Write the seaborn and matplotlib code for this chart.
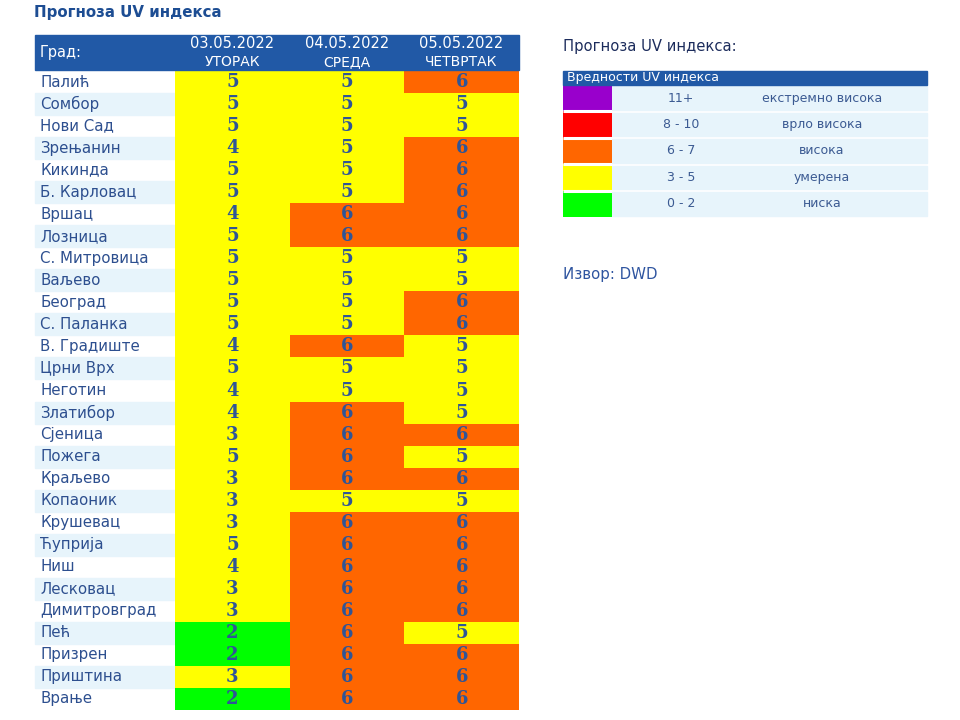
import numpy as np
import matplotlib
matplotlib.use("Agg")
import matplotlib.pyplot as plt
import matplotlib.transforms as mtransforms
from matplotlib.colors import ListedColormap
from matplotlib.patches import Rectangle
import seaborn as sns

cities = ["Палић", "Сомбор", "Нови Сад", "Зрењанин", "Кикинда", "Б. Карловац",
          "Вршац", "Лозница", "С. Митровица", "Ваљево", "Београд", "С. Паланка",
          "В. Градиште", "Црни Врх", "Неготин", "Златибор", "Сјеница", "Пожега",
          "Краљево", "Копаоник", "Крушевац", "Ћуприја", "Ниш", "Лесковац",
          "Димитровград", "Пећ", "Призрен", "Приштина", "Врање"]
dates = ["03.05.2022", "04.05.2022", "05.05.2022"]
days = ["УТОРАК", "СРЕДА", "ЧЕТВРТАК"]
uv_day1 = [5, 5, 5, 4, 5, 5, 4, 5, 5, 5, 5, 5, 4, 5, 4, 4, 3, 5, 3, 3, 3, 5, 4, 3, 3, 2, 2, 3, 2]
uv_day2 = [5, 5, 5, 5, 5, 5, 6, 6, 5, 5, 5, 5, 6, 5, 5, 6, 6, 6, 6, 5, 6, 6, 6, 6, 6, 6, 6, 6, 6]
uv_day3 = [6, 5, 5, 6, 6, 6, 6, 6, 5, 5, 6, 6, 5, 5, 5, 5, 6, 5, 6, 5, 6, 6, 6, 6, 6, 5, 6, 6, 6]

# legend: levels from low to high
level_colors = ["#00ff00", "#ffff00", "#ff6600", "#ff0000", "#9900cc"]
level_ranges = ["0 - 2", "3 - 5", "6 - 7", "8 - 10", "11+"]
level_names = ["ниска", "умерена", "висока", "врло висока", "екстремно висока"]
level_upper = [2, 5, 7, 10, 99]

header_blue = "#2159a6"
stripe = "#e7f4fb"
text_blue = "#2d4f8f"

W, H = 960, 720


def fx(x):
    return x / W


def fy(y):
    return 1 - y / H


def level_of(v):
    for i, up in enumerate(level_upper):
        if v <= up:
            return i
    return len(level_upper) - 1


values = np.array([uv_day1, uv_day2, uv_day3]).T
levels = np.vectorize(level_of)(values)
cmap = ListedColormap(level_colors)

fig = plt.figure(figsize=(9.6, 7.2), dpi=100)

fig.text(fx(34), fy(12), "Прогноза UV индекса", fontsize=10.8, fontweight="bold",
         color="#1d4d93", va="center", ha="left")

# table header
fig.patches.append(Rectangle((fx(35), fy(70)), fx(519 - 35), (70 - 35) / H,
                             transform=fig.transFigure, color=header_blue, zorder=0))
fig.text(fx(40), fy(53), "Град:", fontsize=10.5, color="white", va="center", ha="left")
col_centers = [232, 347, 461]
for cx, d, dn in zip(col_centers, dates, days):
    fig.text(fx(cx), fy(43), d, fontsize=10.5, color="white", va="center", ha="center")
    fig.text(fx(cx), fy(62), dn, fontsize=10, color="white", va="center", ha="center")

ax = fig.add_axes([fx(175), fy(710), fx(519 - 175), (710 - 71) / H])
sns.heatmap(levels, cmap=cmap, vmin=-0.5, vmax=4.5, annot=values, fmt="d",
            cbar=False, ax=ax, xticklabels=False, yticklabels=cities,
            annot_kws={"fontsize": 13, "fontweight": "bold", "color": "#2f5597",
                       "family": "DejaVu Serif"})
ax.tick_params(axis="y", length=0, pad=(175 - 40) * 72 / 100)
for lab in ax.get_yticklabels():
    lab.set_ha("left")
    lab.set_fontsize(10.8)
    lab.set_color(text_blue)
    lab.set_rotation(0)

# striped name column
trans = mtransforms.blended_transform_factory(fig.transFigure, ax.transData)
for i in range(1, len(cities), 2):
    ax.add_patch(Rectangle((fx(35), i), fx(175 - 35), 1, transform=trans,
                           color=stripe, clip_on=False, zorder=0))

# legend
fig.text(fx(563), fy(47), "Прогноза UV индекса:", fontsize=10.6, color="#1c2c5c",
         va="center", ha="left")
fig.patches.append(Rectangle((fx(563), fy(85)), fx(927 - 563), (85 - 71) / H,
                             transform=fig.transFigure, color=header_blue, zorder=0))
fig.text(fx(567), fy(78), "Вредности UV индекса", fontsize=9, color="white",
         va="center", ha="left")

leg_levels = np.arange(len(level_colors))[::-1].reshape(-1, 1)
ax2 = fig.add_axes([fx(563), fy(217), fx(612 - 563), (217 - 85) / H])
sns.heatmap(leg_levels, cmap=cmap, vmin=-0.5, vmax=4.5, cbar=False, ax=ax2,
            xticklabels=False, yticklabels=False)
ax2.hlines(range(1, len(level_colors)), 0, 1, colors="white", linewidth=2.2)
trans2 = mtransforms.blended_transform_factory(fig.transFigure, ax2.transData)
for row, lv in enumerate(leg_levels[:, 0]):
    ax2.add_patch(Rectangle((fx(612), row + 0.05), fx(927 - 612), 0.9, transform=trans2,
                            color=stripe, clip_on=False, zorder=0))
    ax2.text(fx(681), row + 0.5, level_ranges[lv], transform=trans2, fontsize=9,
             color="#3b5a92", ha="center", va="center")
    ax2.text(fx(822), row + 0.5, level_names[lv], transform=trans2, fontsize=9,
             color="#3b5a92", ha="center", va="center")

fig.text(fx(563), fy(275), "Извор: DWD", fontsize=10.8, color="#2f55a0",
         va="center", ha="left")

fig.savefig("out.png", dpi=100, facecolor="white")
